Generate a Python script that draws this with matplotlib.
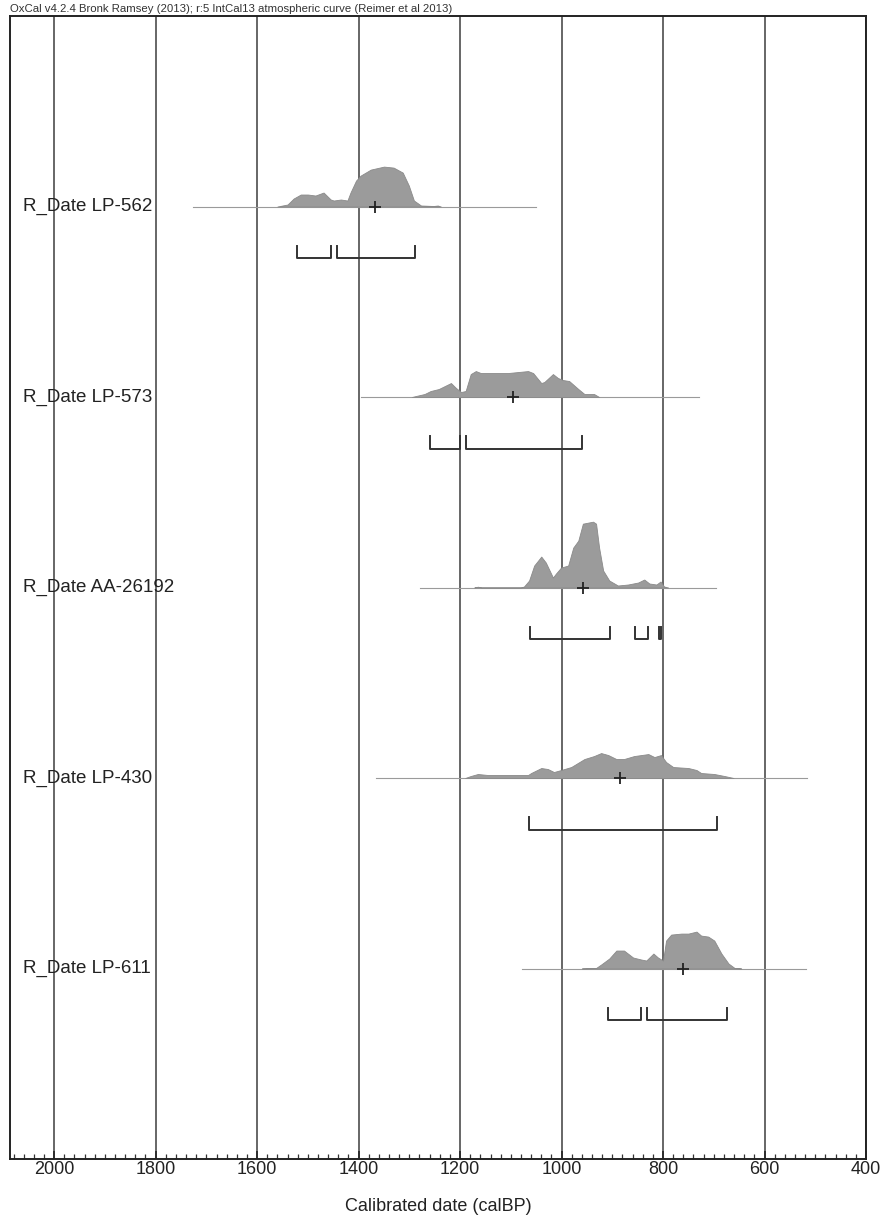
"""
OxCal-style multiplot of five calibrated radiocarbon dates (calBP).
"""
import matplotlib
matplotlib.use("Agg")
import matplotlib.pyplot as plt
import matplotlib.transforms as mtransforms
from matplotlib.ticker import MultipleLocator

plt.rcParams["font.family"] = ["Liberation Sans", "DejaVu Sans"]

# ── Data ─────────────────────────────────────────────────────────────────────
LABELS = ["R_Date LP-562", "R_Date LP-573", "R_Date AA-26192",
          "R_Date LP-430", "R_Date LP-611"]

# probability curves (calBP, relative height)
LP562_YR = [1560, 1540, 1528, 1514, 1500, 1485, 1469, 1455, 1449, 1435, 1422,
            1416, 1405, 1396, 1376, 1350, 1331, 1313, 1301, 1291, 1277, 1252,
            1244, 1238]
LP562_P = [0, 2, 8, 12, 12, 11, 14, 7, 6, 7, 6, 14, 26, 31, 37, 40, 39, 34,
           21, 6, 1, 0.5, 1, 0]

LP573_YR = [1295, 1287, 1270, 1258, 1242, 1218, 1208, 1198, 1189, 1179, 1169,
            1159, 1145, 1106, 1066, 1056, 1040, 1034, 1017, 1007, 997, 985,
            967, 955, 936, 926]
LP573_P = [0, 1, 3, 6, 8, 14, 9, 5, 6, 23, 26, 24, 24, 24, 26, 24, 14, 15, 23,
           19, 17, 16, 8, 3, 3, 0]

AA26192_YR = [1172, 1165, 1158, 1080, 1074, 1064, 1054, 1040, 1031, 1017, 1011,
              1001, 987, 977, 967, 958, 938, 932, 926, 918, 906, 889, 869, 849,
              837, 827, 813, 805, 798, 790]
AA26192_P = [0, 0.8, 0, 0, 1, 7, 22, 31, 25, 10, 14, 20, 22, 40, 47, 64, 66, 64,
             40, 17, 7, 2, 3, 5, 8, 4, 3, 6, 1, 0]

LP430_YR = [1190, 1179, 1165, 1145, 1100, 1066, 1060, 1040, 1027, 1015, 1001,
            981, 955, 936, 922, 908, 892, 877, 857, 829, 817, 804, 794, 780,
            750, 734, 725, 699, 679, 661]
LP430_P = [0, 2, 4, 3, 3, 3, 5, 10, 9, 6, 8, 11, 19, 22, 25, 23, 19, 19, 22,
           24, 21, 23, 16, 11, 10, 8, 5, 4, 2, 0]

LP611_YR = [960, 932, 922, 906, 892, 877, 859, 843, 833, 819, 810, 800, 794,
            784, 764, 750, 734, 725, 711, 699, 685, 671, 659, 646]
LP611_P = [0, 0.5, 4, 10, 18, 18, 11, 9, 8, 15, 11, 8, 28, 34, 35, 35, 37, 33,
           32, 28, 15, 5, 0.5, 0]

CURVES = [(LP562_YR, LP562_P), (LP573_YR, LP573_P), (AA26192_YR, AA26192_P),
          (LP430_YR, LP430_P), (LP611_YR, LP611_P)]

MEDIANS = [1368, 1096, 958, 884, 760]
LINE_RANGES = [(1726, 1050), (1396, 730), (1279, 695), (1366, 517), (1078, 519)]

# 95.4% ranges
RANGES = [
    [(1522, 1455), (1443, 1289)],
    [(1260, 1200), (1189, 960)],
    [(1062, 904), (855, 829), (807, 804)],
    [(1064, 693)],
    [(908, 843), (831, 673)],
]

TITLE = ("OxCal v4.2.4 Bronk Ramsey (2013); r:5 IntCal13 atmospheric curve "
         "(Reimer et al 2013)")

P_SCALE = 1 / 191.0     # curve height units -> row units
BR_OFF = 0.272          # bracket offset below baseline
BR_H = 0.066            # bracket tick height

# ── Plot ─────────────────────────────────────────────────────────────────────
fig = plt.figure(figsize=(8.85, 12.21), dpi=100)
ax = fig.add_axes([10 / 885, 1 - 1159 / 1221, 856 / 885, (1159 - 16) / 1221])

ax.set_xlim(2087, 400)
ax.set_ylim(0, 6)

for x in range(400, 2001, 200):
    ax.axvline(x, color="#5a5a5a", linewidth=1.3, zorder=1)

trans = mtransforms.blended_transform_factory(ax.transAxes, ax.transData)

for i, label in enumerate(LABELS):
    y0 = 5 - i
    yr, p = CURVES[i]
    lo, hi = LINE_RANGES[i]
    ax.plot([lo, hi], [y0, y0], color="#9a9a9a", linewidth=0.8, zorder=2)
    ax.fill_between(yr, y0, [y0 + v * P_SCALE for v in p], color="#9b9b9b",
                    edgecolor="#8a8a8a", linewidth=0.6, zorder=3)
    ax.plot(MEDIANS[i], y0, marker="+", color="#222222", markersize=8,
            markeredgewidth=1.3, zorder=4)
    yb = y0 - BR_OFF
    for a, b in RANGES[i]:
        ax.plot([a, a, b, b], [yb + BR_H, yb, yb, yb + BR_H],
                color="#333333", linewidth=1.4, zorder=4)
    ax.text(13 / 856, y0, label, transform=trans, fontsize=13.5,
            va="center", ha="left", color="#222222", zorder=5)

ax.set_yticks([])
ax.xaxis.set_major_locator(MultipleLocator(200))
ax.xaxis.set_minor_locator(MultipleLocator(20))
ax.tick_params(axis="x", which="major", direction="in", length=6,
               width=1.2, labelsize=13, pad=1.5, colors="#222222")
ax.tick_params(axis="x", which="minor", direction="in", length=3.6, width=0.9,
               colors="#333333")
ax.set_xlabel("Calibrated date (calBP)", fontsize=13, labelpad=14,
              color="#222222")
for s in ax.spines.values():
    s.set_linewidth(1.4)
    s.set_color("#222222")

fig.text(10 / 885, 1 - 14 / 1221, TITLE, fontsize=8.2, ha="left",
         va="bottom", color="#333333")

fig.savefig("out.png", dpi=100)
